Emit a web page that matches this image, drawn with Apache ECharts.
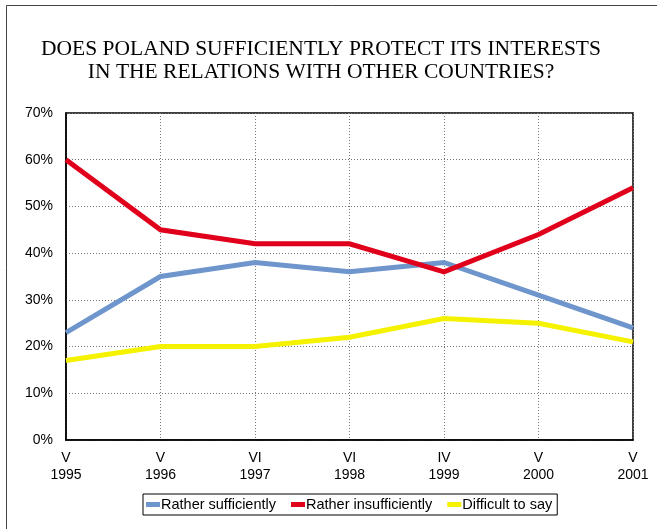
<!DOCTYPE html>
<html>
<head>
<meta charset="utf-8">
<script src="https://cdn.jsdelivr.net/npm/echarts@6/dist/echarts.min.js"></script>
<style>
html,body{margin:0;padding:0;background:#fff;}
#chart{width:657px;height:529px;}
</style>
</head>
<body>
<div id="chart"></div>
<script>
const categories = ['V\n1995', 'V\n1996', 'VI\n1997', 'VI\n1998', 'IV\n1999', 'V\n2000', 'V\n2001'];
const ratherSufficiently = [23, 35, 38, 36, 38, 31, 24];
const ratherInsufficiently = [60, 45, 42, 42, 36, 44, 54];
const difficultToSay = [17, 20, 20, 22, 26, 25, 21];
const seriesNames = ['Rather sufficiently', 'Rather insufficiently', 'Difficult to say'];
const seriesColors = ['#6f96cc', '#e0001b', '#f5f200'];

const chart = echarts.init(document.getElementById('chart'));
const dataSets = [ratherSufficiently, ratherInsufficiently, difficultToSay];
chart.setOption({
  animation: false,
  backgroundColor: '#fff',
  title: {
    text: 'DOES POLAND SUFFICIENTLY PROTECT ITS INTERESTS\nIN THE RELATIONS WITH OTHER COUNTRIES?',
    left: 316,
    textAlign: 'center',
    top: 33,
    textStyle: {
      fontFamily: 'Liberation Serif',
      fontWeight: 'normal',
      fontSize: 21.5,
      lineHeight: 23,
      color: '#000'
    }
  },
  graphic: [{
    type: 'rect',
    shape: { x: 6.5, y: 5.5, width: 700, height: 600 },
    style: { fill: 'none', stroke: '#444', lineWidth: 1 },
    silent: true
  }],
  grid: {
    left: 66, top: 113, right: 24, bottom: 89,
    show: true, borderColor: '#000', borderWidth: 1.5,
    containLabel: false
  },
  legend: {
    data: seriesNames,
    left: 143,
    top: 494,
    width: 450,
    itemGap: 15,
    itemWidth: 14,
    itemHeight: 5,
    icon: 'rect',
    borderColor: '#000',
    borderWidth: 1,
    padding: [3, 5, 3, 3],
    textStyle: { fontFamily: 'Liberation Sans', fontSize: 14.5, color: '#000', padding: [0, 0, 0, -4] }
  },
  xAxis: {
    type: 'category',
    data: categories,
    boundaryGap: false,
    axisLine: { lineStyle: { color: '#000', width: 1.5 } },
    axisTick: { show: false },
    axisLabel: { fontFamily: 'Liberation Sans', fontSize: 14, color: '#000', lineHeight: 17, margin: 10 },
    splitLine: { show: true, lineStyle: { color: '#777', type: [1, 2], width: 1 } }
  },
  yAxis: {
    type: 'value',
    min: 0, max: 70, interval: 10,
    axisLine: { show: true, lineStyle: { color: '#000', width: 1.5 } },
    axisTick: { show: false },
    axisLabel: { fontFamily: 'Liberation Sans', fontSize: 14, color: '#000', formatter: '{value}%', margin: 13 },
    splitLine: { show: true, lineStyle: { color: '#777', type: [1, 2], width: 1 } }
  },
  series: dataSets.map((d, i) => ({
    name: seriesNames[i],
    type: 'line',
    data: d,
    symbol: 'none',
    color: seriesColors[i],
    lineStyle: { width: 5, color: seriesColors[i], join: 'miter' },
    z: [2, 3, 1][i]
  }))
});
</script>
</body>
</html>
